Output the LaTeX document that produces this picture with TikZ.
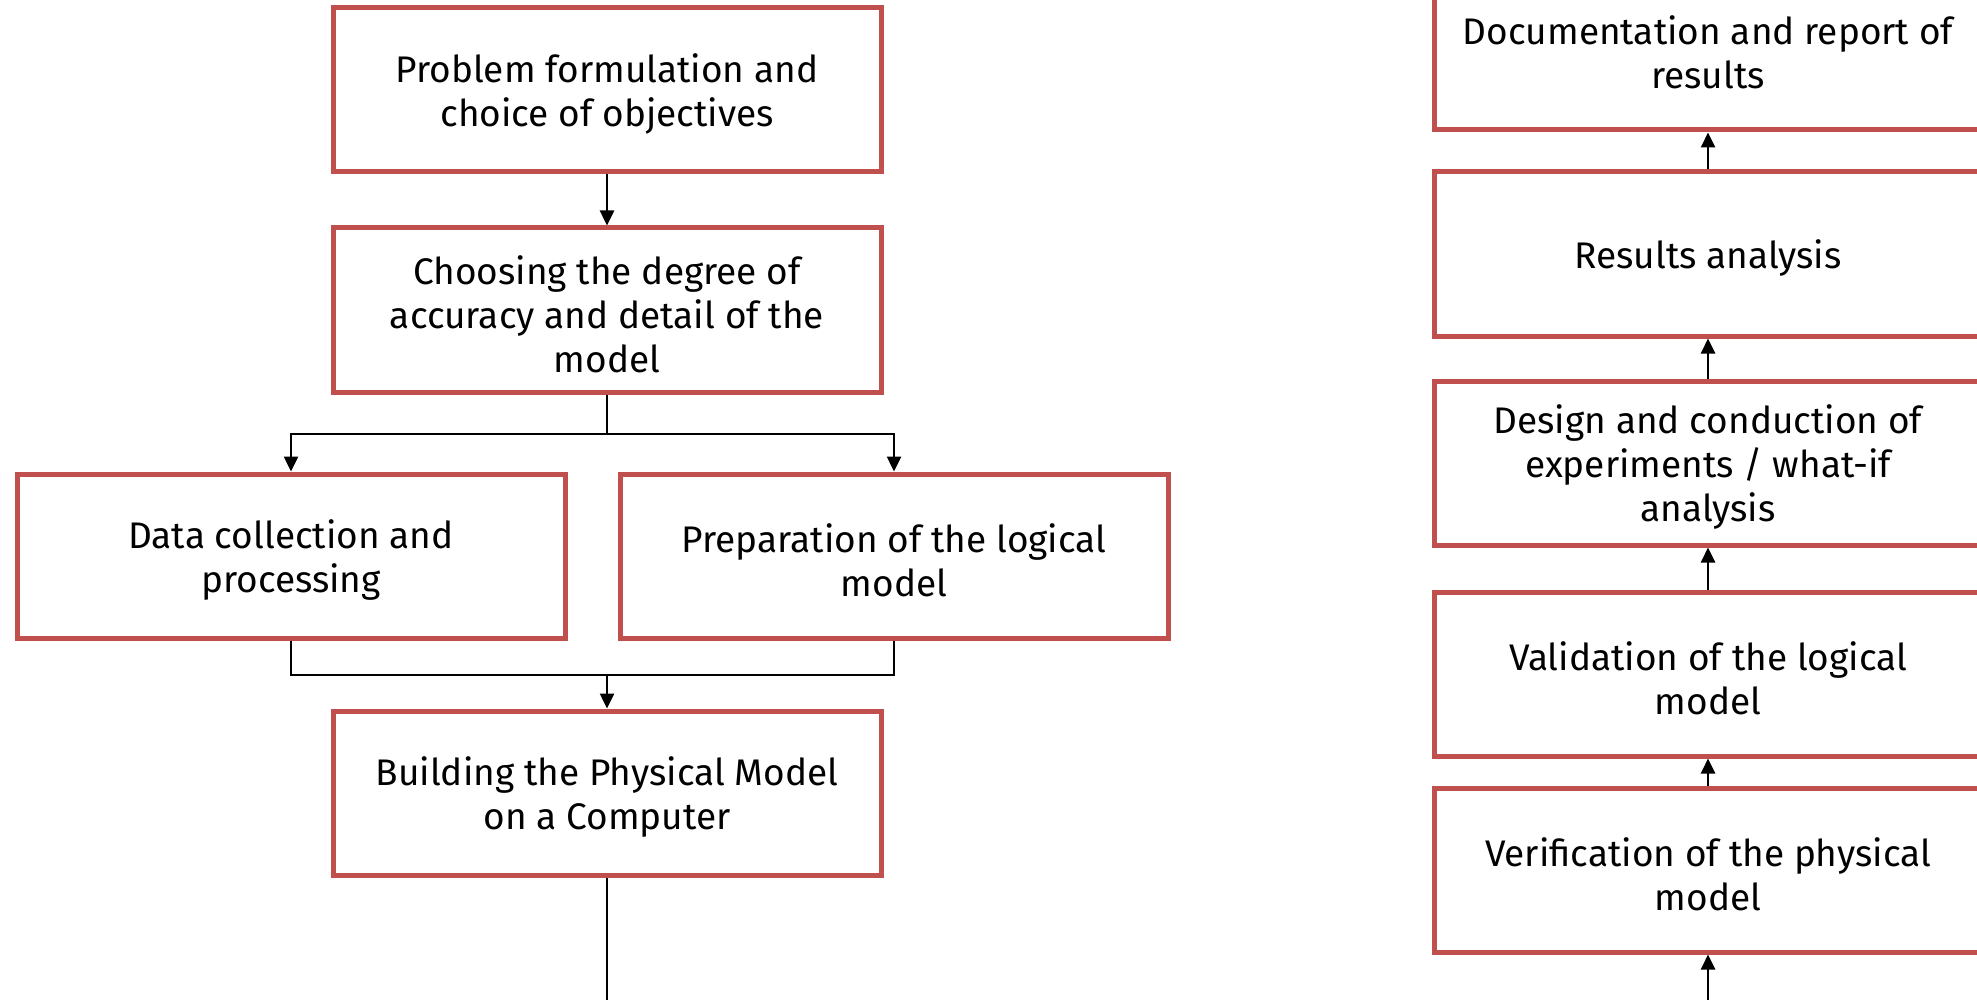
\documentclass[tikz,border=0pt]{standalone}
\usepackage{fontspec}
\setmainfont{Fira Sans}
\usepackage{xcolor}
\definecolor{boxred}{RGB}{192,80,77}
\usetikzlibrary{arrows.meta,calc}
\newcommand\lead{\rule{0pt}{37pt}}

\begin{document}
\begin{tikzpicture}[x=1pt,y=-1pt,
    box/.style={draw=boxred,line width=5pt,minimum width=548pt,minimum height=164pt,
        inner sep=0pt,align=center,font=\fontsize{37}{44}\selectfont},
    wire/.style={line width=2.5pt},
    link/.style={wire,-{Triangle[length=15pt,width=14pt]}}]
    \useasboundingbox (0,0) rectangle (1977,1000);
    \clip (0,0) rectangle (1977,1000);
    % left column
    \node [box] (problem)  at (607,90)  {\lead Problem formulation and\\choice of objectives};
    \node [box] (accuracy) at (607,310) {\lead Choosing the degree of\\accuracy and detail of the\\model};
    \node [box] (data)     at (291,556) {\lead Data collection and\\processing};
    \node [box] (logic)    at (894,556) {\lead Preparation of the logical\\model};
    \node [box] (building) at (607,793) {\lead Building the Physical Model\\on a Computer};
    \coordinate (split) at (607,434);
    \coordinate (join)  at (607,675);
    \coordinate (exitL) at (607,1000);
    \draw [link] (problem) -- (accuracy);
    \draw [wire] (accuracy.south) -- (split);
    \draw [link] (split) -| (data.north);
    \draw [link] (split) -| (logic.north);
    \draw [wire] (data.south) |- (join) -| (logic.south);
    \draw [link] (join) -- (building.north);
    \draw [wire] (building.south) -- (exitL);
    % right column
    \node [box] (report)       at (1708,48)  {\lead Documentation and report of\\results};
    \node [box] (results)      at (1708,254) {\lead Results analysis};
    \node [box] (design)       at (1708,463) {\lead Design and conduction of\\experiments / what-if\\analysis};
    \node [box] (validation)   at (1708,674) {\lead Validation of the logical\\model};
    \node [box] (verification) at (1708,870) {\lead Verification of the physical\\model};
    \coordinate (entryR) at (1708,1000);
    \draw [link] (entryR) -- (verification.south);
    \draw [link] (verification) -- (validation);
    \draw [link] (validation) -- (design);
    \draw [link] (design) -- (results);
    \draw [link] (results) -- (report);
\end{tikzpicture}
\end{document}
